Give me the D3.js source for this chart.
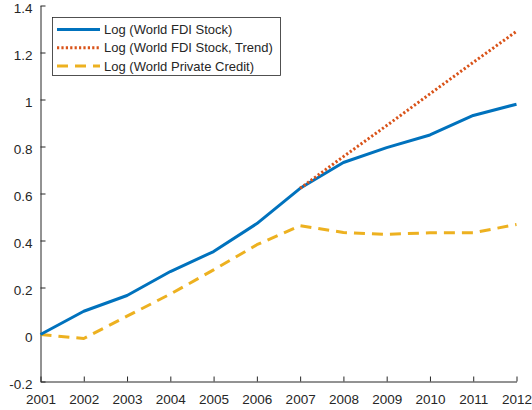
<!DOCTYPE html>
<html>
<head>
<meta charset="utf-8">
<script src="https://cdn.jsdelivr.net/npm/d3@7"></script>
<style>
  html, body { margin: 0; padding: 0; background: #fff; }
  svg { display: block; }
  text { font-family: "Liberation Sans", Arial, Helvetica, sans-serif; fill: #262626; }
</style>
</head>
<body>
<svg id="chart" width="532" height="410"></svg>
<script>
// Years on the x axis
const years = [2001, 2002, 2003, 2004, 2005, 2006, 2007, 2008, 2009, 2010, 2011, 2012];
// Log of world FDI stock (relative to 2001)
const fdiStock = [0, 0.099, 0.166, 0.268, 0.353, 0.472, 0.622, 0.732, 0.795, 0.849, 0.932, 0.98];
// Pre-crisis trend of FDI stock, from 2007 onward
const trendYears = [2007, 2008, 2009, 2010, 2011, 2012];
const fdiTrend = [0.622, 0.757, 0.889, 1.024, 1.158, 1.29];
// Log of world private credit (relative to 2001)
const privateCredit = [0, -0.017, 0.078, 0.172, 0.275, 0.382, 0.463, 0.434, 0.426, 0.433, 0.433, 0.468];
// Axis ticks
const yTicks = [-0.2, 0, 0.2, 0.4, 0.6, 0.8, 1, 1.2, 1.4];
const seriesNames = ["Log (World FDI Stock)", "Log (World FDI Stock, Trend)", "Log (World Private Credit)"];

const svg = d3.select("#chart");
const axisColor = "#262626";

const x = d3.scaleLinear().domain([2001, 2012]).range([40.5, 516.5]);
const y = d3.scaleLinear().domain([-0.2, 1.4]).range([381.5, 5.5]);

// Axes (ticks pointing inward); plain hyphen for negatives
const fmtY = d => String(+d.toFixed(1));
const xAxis = d3.axisBottom(x).tickValues(years).tickFormat(d3.format("d")).tickSizeInner(-5).tickSizeOuter(0).tickPadding(9);
const yAxis = d3.axisLeft(y).tickValues(yTicks).tickFormat(fmtY).tickSizeInner(-5).tickSizeOuter(0).tickPadding(8);

const gx = svg.append("g").attr("transform", `translate(0,${y(-0.2)})`).call(xAxis);
const gy = svg.append("g").attr("transform", `translate(${x(2001)},0)`).call(yAxis);

[gx, gy].forEach(g => {
  g.select(".domain").attr("stroke", axisColor).attr("stroke-width", 1);
  g.selectAll(".tick line").attr("stroke", axisColor).attr("stroke-width", 1);
  g.selectAll(".tick text").attr("font-size", 13.5).attr("fill", axisColor)
    .style("font-family", "'Liberation Sans', Arial, sans-serif");
});
gx.selectAll(".tick text").attr("dy", "13.2px");
gy.selectAll(".tick text").attr("dy", "6.8px");

const line = d3.line().x(d => x(d[0])).y(d => y(d[1]));

const styles = [
  { color: "#0072BD", dash: null, width: 3 },
  { color: "#D95319", dash: "2.2,2.2", width: 3 },
  { color: "#EDB120", dash: "11,7", width: 3 }
];

const seriesData = [
  years.map((yr, i) => [yr, fdiStock[i]]),
  trendYears.map((yr, i) => [yr, fdiTrend[i]]),
  years.map((yr, i) => [yr, privateCredit[i]])
];

// Draw in order: credit, FDI stock, trend on top
[2, 0, 1].forEach(i => {
  svg.append("path")
    .datum(seriesData[i])
    .attr("fill", "none")
    .attr("stroke", styles[i].color)
    .attr("stroke-width", styles[i].width)
    .attr("stroke-dasharray", styles[i].dash)
    .attr("stroke-linejoin", "round")
    .attr("d", line);
});

// Legend
const legend = svg.append("g");
legend.append("rect")
  .attr("x", 52.5).attr("y", 17.5).attr("width", 228).attr("height", 58)
  .attr("fill", "#fff").attr("stroke", axisColor).attr("stroke-width", 0.8);

seriesNames.forEach((name, i) => {
  const ly = 29.5 + i * 18.2;
  legend.append("line")
    .attr("x1", 57).attr("x2", 100).attr("y1", ly).attr("y2", ly)
    .attr("stroke", styles[i].color)
    .attr("stroke-width", styles[i].width)
    .attr("stroke-dasharray", styles[i].dash);
  legend.append("text")
    .attr("x", 104).attr("y", ly).attr("dy", "0.36em")
    .attr("font-size", 13)
    .text(name);
});
</script>
</body>
</html>
